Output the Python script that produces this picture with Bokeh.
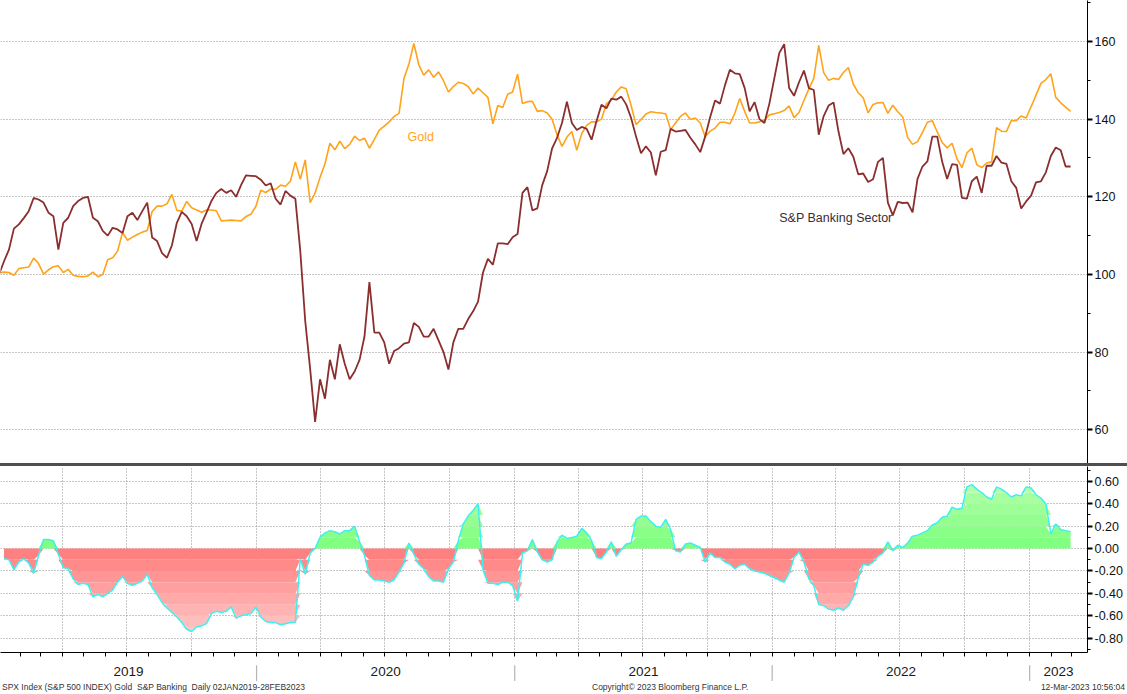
import numpy as np
import pandas as pd
from bokeh.plotting import figure
from bokeh.models import (Range1d, FixedTicker, Label, Div, PrintfTickFormatter,
                          CustomJSTickFormatter)
from bokeh.layouts import column
from bokeh.embed import file_html
from bokeh.resources import INLINE
from bokeh.core.properties import value

# ---------------- data (weekly readings, last week ending 28 Feb 2023) ----------------
week_end = "2023-02-28"
n_weeks = 218

bank_sector = [
    100, 103.4, 106.4, 111.8, 112.9, 114.5, 116.3, 119.7, 119.3, 118.5,
    115.9, 115, 106.4, 113.3, 114.6, 117.6, 118.9, 119.7, 120, 114.6,
    113.7, 111.2, 110, 112, 111.6, 110.7, 115, 115.9, 114, 116.3,
    118.5, 109.5, 108.6, 105.5, 104.3, 107.5, 113.3, 116.1, 115, 113,
    108.6, 113, 115.9, 118.9, 121, 122, 121, 121.7, 120, 123,
    125.5, 125.4, 125.3, 124.4, 122.9, 123.5, 119.5, 118, 121.5, 120.3,
    119.5, 106, 88, 75.6, 62, 73, 68, 78, 73, 82,
    77, 73, 75, 78, 84, 98, 85, 85, 82.5, 77,
    80.3, 81, 82.2, 82.5, 87.5, 86.5, 84, 84, 86, 83,
    80, 75.5, 82.5, 86, 86, 88.5, 90.5, 93, 100.5, 104,
    102.5, 108, 108, 107.8, 109.6, 110.4, 121, 122.5, 116.5, 117,
    123, 126.6, 132.5, 135.2, 139, 144.5, 139, 137.2, 138, 137.5,
    134.7, 139.5, 143.7, 142.8, 145.3, 145, 145.8, 143.8, 140.3, 135.5,
    131.2, 133, 131.4, 125.5, 131.6, 132, 137.5, 136.8, 137, 137.2,
    135.2, 133.5, 131.5, 135.5, 140.5, 144.8, 144, 148.7, 152.7, 151.8,
    151.6, 148, 142, 144.4, 140, 139, 144, 150.5, 157, 159.3,
    148, 146, 149.5, 152.5, 148, 147.5, 136, 140.8, 143.5, 144.3,
    136.8, 131, 132.5, 130.3, 125.8, 126, 123.8, 124.5, 129, 130,
    118.5, 115.2, 118.7, 118.4, 118.5, 116, 124.6, 127.8, 129.1, 135.5,
    135.5, 129, 124.6, 128.4, 128.2, 119.7, 119.5, 124, 125.2, 121,
    128, 128, 130.5, 128.8, 128.5, 124, 122.3, 117, 118.8, 120.3,
    123.7, 124, 126.3, 130.5, 132.7, 132, 127.8, 127.8,
]

gold = [
    100.4, 100.6, 100.5, 99.8, 101.5, 101.7, 101.9, 104.2, 102.8, 100.1,
    101.2, 102, 102.2, 100.5, 101.3, 99.8, 99.5, 99.4, 99.6, 100.6,
    99.4, 100, 103.8, 104.3, 106, 110.8, 108.8, 109.6, 110.3, 110.9,
    111.3, 116.2, 117.6, 117.6, 118.2, 120.6, 116.5, 116.3, 118.8, 117.2,
    116.6, 116, 116.6, 116.6, 116.4, 113.8, 113.9, 114, 113.9, 113.8,
    114.9, 115.5, 117.5, 121.7, 121.1, 122, 121.9, 123, 122.7, 124,
    129, 124.5, 129.5, 118.5, 121, 125, 128.5, 133.8, 132.1, 134.3,
    132.4, 133.5, 135.6, 134.5, 135.1, 132.5, 134.8, 137.2, 138.2, 139.3,
    140.7, 141.5, 150.5, 154.2, 159.5, 154, 151.3, 152.7, 150.8, 152.2,
    149.9, 147, 148.4, 149.5, 149.2, 148.4, 146.5, 148, 146.8, 145.6,
    138.8, 143.5, 143, 146.4, 147, 151.6, 144, 144.5, 144.6, 142,
    142.2, 141.6, 140, 136, 133, 135.4, 136.8, 132, 136.3, 138.4,
    139.3, 139.3, 140, 144, 144.9, 147, 148.3, 147.8, 143.5, 138.6,
    139.9, 141.3, 141.9, 141.7, 141.6, 141.4, 137.3, 139, 140.7, 141.6,
    139.9, 140.3, 139, 135.5, 136.9, 137.7, 139.2, 139.2, 138.8, 141.5,
    145.3, 142, 139, 139, 139.3, 139.7, 141.1, 141.4, 141.7, 142.2,
    143.4, 140.4, 141.7, 144.8, 147.8, 150.5, 159, 152, 150, 150.5,
    150.2, 152, 153.3, 149, 146.8, 145.5, 141.6, 143.8, 144.2, 144.3,
    141.5, 143.6, 141.9, 140.6, 135.3, 133.5, 134.2, 136.6, 139.2, 139.6,
    136.7, 134, 132.6, 133.8, 129.8, 127.5, 131.3, 132.5, 128.3, 127.5,
    128.7, 129, 137.8, 136.9, 136.8, 139.6, 139.6, 140.8, 140.3, 143.2,
    146.2, 149.2, 150.2, 151.7, 145.6, 144.2, 143.1, 142,
]

# correlation panel, starts with the second week
correlation = [
    -0.09, -0.10, -0.19, -0.12, -0.09, -0.13, -0.22, -0.06, 0.08, 0.08,
    0.07, -0.05, -0.17, -0.18, -0.27, -0.32, -0.31, -0.32, -0.43, -0.41,
    -0.43, -0.40, -0.37, -0.30, -0.25, -0.31, -0.33, -0.31, -0.29, -0.23,
    -0.35, -0.41, -0.48, -0.53, -0.57, -0.61, -0.66, -0.72, -0.74, -0.70,
    -0.69, -0.67, -0.58, -0.56, -0.57, -0.56, -0.52, -0.62, -0.60, -0.59,
    -0.58, -0.52, -0.61, -0.65, -0.66, -0.66, -0.68, -0.67, -0.66, -0.66,
    -0.09, -0.23, -0.04, 0.0, 0.10, 0.14, 0.16, 0.15, 0.13, 0.16,
    0.16, 0.20, 0.06, -0.06, -0.24, -0.28, -0.28, -0.29, -0.30, -0.28,
    -0.21, -0.13, 0.05, -0.05, -0.14, -0.18, -0.25, -0.29, -0.29, -0.30,
    -0.18, -0.12, 0.07, 0.22, 0.29, 0.34, 0.40, -0.19, -0.31, -0.31,
    -0.32, -0.30, -0.30, -0.33, -0.47, -0.04, -0.02, 0.08, -0.03, -0.10,
    -0.12, -0.10, 0.06, 0.12, 0.09, 0.10, 0.11, 0.18, 0.14, 0.07,
    -0.08, -0.09, -0.03, 0.06, -0.07, -0.01, 0.04, 0.05, 0.26, 0.29,
    0.29, 0.24, 0.20, 0.19, 0.26, 0.17, -0.02, -0.03, 0.04, 0.05,
    0.03, 0.01, -0.12, -0.04, -0.08, -0.08, -0.12, -0.14, -0.18, -0.15,
    -0.14, -0.18, -0.20, -0.21, -0.22, -0.24, -0.26, -0.28, -0.30, -0.22,
    -0.08, -0.03, -0.12, -0.27, -0.33, -0.50, -0.51, -0.54, -0.55, -0.53,
    -0.55, -0.51, -0.43, -0.26, -0.14, -0.15, -0.12, -0.07, -0.04, 0.06,
    -0.02, 0.03, 0.01, 0.05, 0.11, 0.12, 0.14, 0.16, 0.21, 0.23,
    0.28, 0.29, 0.37, 0.35, 0.36, 0.55, 0.57, 0.53, 0.50, 0.46,
    0.44, 0.55, 0.53, 0.50, 0.46, 0.48, 0.47, 0.55, 0.54, 0.48,
    0.45, 0.40, 0.13, 0.22, 0.17, 0.16, 0.15,
]

years = [2019, 2020, 2021, 2022, 2023]
price_ticks = [60, 80, 100, 120, 140, 160]
price_minor = [50, 70, 90, 110, 130, 150, 170]
corr_ticks = [-0.8, -0.6, -0.4, -0.2, 0.0, 0.2, 0.4, 0.6]
corr_minor = [-0.9, -0.7, -0.5, -0.3, -0.1, 0.1, 0.3, 0.5, 0.7]
gold_label = "Gold"
bank_label = "S&P Banking Sector"
footer_left = "SPX Index (S&amp;P 500 INDEX) Gold  S&amp;P Banking  Daily 02JAN2019-28FEB2023"
footer_mid = "Copyright&copy; 2023 Bloomberg Finance L.P."
footer_right = "12-Mar-2023 10:56:04"

# ---------------- styling ----------------
FONT = "Liberation Sans"
GOLD_C = "#FFA31A"
BANK_C = "#8B2E2E"
GRID_C = "#8c8c8c"
W, RB = 1127, 40


def ms(t):
    return pd.Timestamp(t).value / 1e6


dates = pd.date_range(end=week_end, periods=n_weeks, freq="7D")
x_start, x_end = pd.Timestamp("2019-01-03"), pd.Timestamp("2023-03-24")
xr = Range1d(ms(x_start), ms(x_end))


def style_axis(ax):
    ax.axis_line_color = "black"
    ax.major_tick_in = 0
    ax.major_tick_out = 5
    ax.major_tick_line_width = 2
    ax.minor_tick_in = 0
    ax.minor_tick_out = 3
    ax.major_label_standoff = 2
    ax.major_label_text_font = FONT
    ax.major_label_text_font_size = "12.5px"
    ax.major_label_text_color = "#111111"


common = dict(output_backend="svg", toolbar_location=None, min_border_left=0,
              min_border_top=0, min_border_right=RB, x_axis_type="datetime",
              background_fill_color="white", border_fill_color="white", margin=0)

# ---------------- top panel ----------------
top = figure(width=W, height=463, x_range=xr, y_range=Range1d(51.3, 170.56),
             x_axis_location=None, y_axis_location="right", min_border_bottom=0, **common)
top.outline_line_color = None
top.xgrid.visible = False
top.ygrid.ticker = FixedTicker(ticks=price_ticks)
top.ygrid.grid_line_color = GRID_C
top.ygrid.grid_line_dash = "1 2"
ya = top.yaxis[0]
ya.ticker = FixedTicker(ticks=price_ticks, minor_ticks=price_minor)
style_axis(ya)

top.line(dates, gold, line_color=GOLD_C, line_width=1.6)
top.line(dates, bank_sector, line_color=BANK_C, line_width=1.8)
top.add_layout(Label(x=ms("2020-08-02"), y=135.4, text=gold_label, text_color=GOLD_C,
                     text_font=FONT, text_font_size="12.5px", text_baseline="middle"))
top.add_layout(Label(x=ms("2022-01-11"), y=114.6, text=bank_label, text_color="#3a2c34",
                     text_font=FONT, text_font_size="12.5px", text_baseline="middle"))

# ---------------- separator ----------------
sep = Div(text="", width=W, height=3, margin=0, styles={"background-color": "#4f4f4f"})

# ---------------- bottom panel ----------------
bot = figure(width=W, height=191, x_range=xr, y_range=Range1d(-0.927, 0.732),
             y_axis_location="right", min_border_bottom=5, **common)
bot.outline_line_color = None
quarters = [ms(t) for t in pd.date_range("2019-01-01", "2023-03-01", freq="QS")]
months = [ms(t) for t in pd.date_range("2019-01-01", "2023-03-01", freq="MS")]
bot.xgrid.ticker = FixedTicker(ticks=quarters)
bot.ygrid.ticker = FixedTicker(ticks=corr_ticks)
for g in (bot.xgrid[0], bot.ygrid[0]):
    g.grid_line_color = GRID_C
    g.grid_line_dash = "1 2"

by = bot.yaxis[0]
by.ticker = FixedTicker(ticks=corr_ticks, minor_ticks=corr_minor)
by.formatter = PrintfTickFormatter(format="%.2f")
style_axis(by)

bx = bot.xaxis[0]
bx.ticker = FixedTicker(ticks=months)
bx.formatter = CustomJSTickFormatter(code="return ''")
bx.axis_line_color = "black"
bx.major_tick_in = 0
bx.major_tick_out = 4
bx.major_label_standoff = 0
bx.major_label_text_font_size = "1px"
bx.minor_tick_line_color = None

cdates = dates[1:]
cv = np.array(correlation, dtype=float)


def mix(c0, c1, t):
    return "#%02x%02x%02x" % tuple(int(round(a + (b - a) * t)) for a, b in zip(c0, c1))


n_red = 8
for k in range(n_red):
    hi = -0.1 * k
    lo = hi - 0.1 if k < n_red - 1 else -1.0
    bot.varea(x=cdates, y1=hi, y2=np.clip(cv, lo, hi),
              fill_color=mix((255, 128, 128), (255, 200, 200), k / (n_red - 1)))
n_green = 7
for k in range(n_green):
    lo = 0.1 * k
    hi = lo + 0.1 if k < n_green - 1 else 1.0
    bot.varea(x=cdates, y1=lo, y2=np.clip(cv, lo, hi),
              fill_color=mix((128, 255, 128), (188, 255, 176), k / (n_green - 1)))
bot.line(cdates, cv, line_color="#3ef0f0", line_width=1.5)

# ---------------- year strip ----------------
strip = figure(width=W, height=24, x_range=xr, y_range=Range1d(0, 1),
               x_axis_location=None, y_axis_location=None, min_border_bottom=0, **common)
strip.outline_line_color = None
strip.grid.visible = False
mids, seps = [], []
for y in years:
    a = max(pd.Timestamp(f"{y}-01-01"), x_start)
    b = min(pd.Timestamp(f"{y + 1}-01-01"), x_end)
    mids.append(ms(a + (b - a) / 2))
    if pd.Timestamp(f"{y}-01-01") > x_start:
        seps.append(ms(f"{y}-01-01"))
strip.text(x=mids, y=[0.4] * len(mids), text=[str(y) for y in years],
           text_font=value(FONT), text_font_size="13.5px", text_align="center",
           text_baseline="middle", text_color="#1a1a1a")
strip.segment(x0=seps, y0=0.0, x1=seps, y1=0.68, line_color="#b4b4b4", line_width=1.2)

# ---------------- footer ----------------
footer_html = (
    '<div style="position:relative;width:%dpx;height:12px;font-family:\'Liberation Sans\';'
    'font-size:8.5px;line-height:12px;color:#333;white-space:pre;">'
    '<span style="position:absolute;left:2px;top:0;">%s</span>'
    '<span style="position:absolute;left:592px;top:0;">%s</span>'
    '<span style="position:absolute;right:2px;top:0;">%s</span></div>'
    % (W, footer_left, footer_mid, footer_right))
footer = Div(text=footer_html, width=W, height=12, margin=0)

layout = column(top, sep, bot, strip, footer, spacing=0)
open("out.html", "w").write(file_html(layout, INLINE))
